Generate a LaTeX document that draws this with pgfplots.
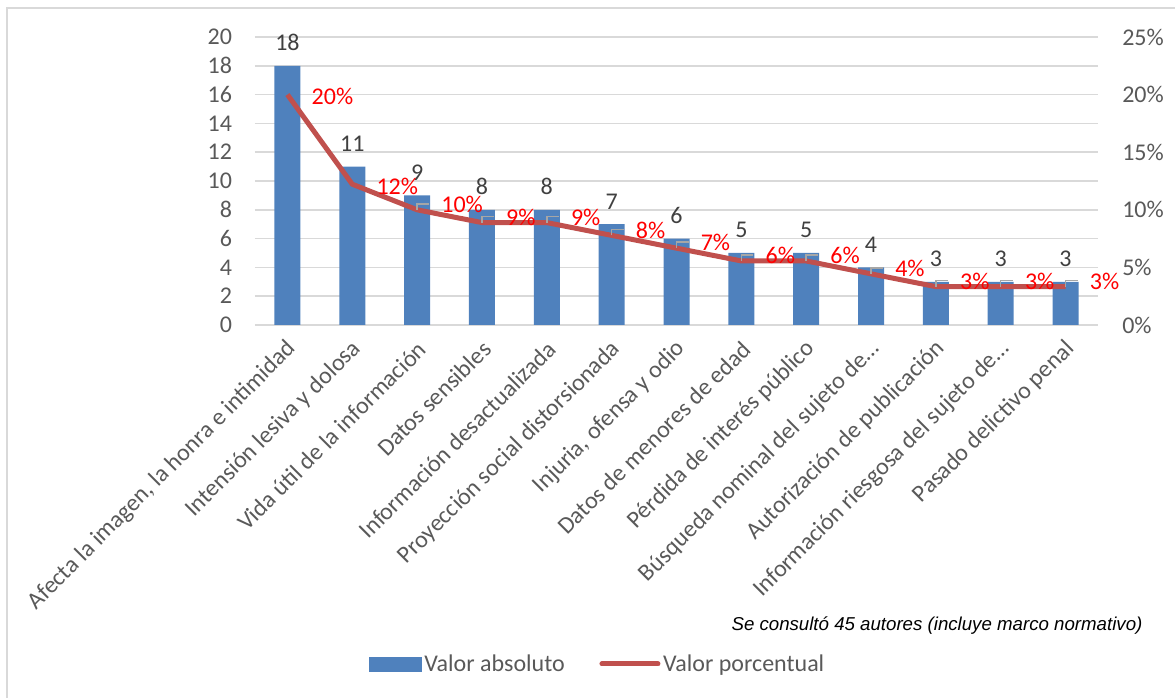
\documentclass[border=0pt]{standalone}
\usepackage{fontspec}
\setmainfont{Carlito}
\newfontfamily\notefont{Liberation Sans}
\usepackage{pgfplots}
\usepackage{pgfplotstable}
\pgfplotsset{compat=1.18}

\definecolor{barblue}{HTML}{4F81BD}
\definecolor{linered}{HTML}{C0504D}
\definecolor{gridgray}{HTML}{D9D9D9}
\definecolor{ticktext}{HTML}{595959}
\definecolor{labeltext}{HTML}{404040}
\definecolor{leadergray}{HTML}{A6A6A6}
\definecolor{pctred}{HTML}{FF0000}

\newcommand{\lbl}{\fontsize{18}{21}\selectfont}

\pgfdeclareplotmark{leader}{%
  \pgfpathmoveto{\pgfqpoint{0pt}{0pt}}%
  \pgfpathlineto{\pgfqpoint{0pt}{4.5pt}}%
  \pgfpathlineto{\pgfqpoint{9pt}{4.5pt}}%
  \pgfusepathqstroke}

\pgfplotstableread{
x count pct
0 18 20.00
1 11 12.22
2 9 10.00
3 8 8.89
4 8 8.89
5 7 7.78
6 6 6.67
7 5 5.56
8 5 5.56
9 4 4.44
10 3 3.33
11 3 3.33
12 3 3.33
}\datatable

\begin{document}
\begin{tikzpicture}
\path[use as bounding box] (-191.25pt,-279.75pt) rectangle (690pt,243.75pt);
\draw[gridgray, line width=1.1pt] (-186pt,-300pt) -- (-186pt,237.75pt) -- (720pt,237.75pt);

\begin{axis}[
  scale only axis, width=632.25pt, height=216pt,
  xmin=-0.5, xmax=12.5, ymin=0, ymax=20,
  axis line style={draw=none},
  major tick length=0pt,
  ytick={0,2,...,20},
  ymajorgrids, grid style={gridgray, line width=1.1pt},
  xtick={0,...,12},
  xticklabels={{Afecta la imagen, la honra e intimidad},
    {Intensión lesiva y dolosa},
    {Vida útil de la información},
    {Datos sensibles},
    {Información desactualizada},
    {Proyección social distorsionada},
    {Injuria, ofensa y odio},
    {Datos de menores de edad},
    {Pérdida de interés público},
    {Búsqueda nominal del sujeto de…},
    {Autorización de publicación},
    {Información riesgosa del sujeto de…},
    {Pasado delictivo penal}},
  tick label style={font=\lbl, text=ticktext},
  /pgf/number format/assume math mode=true,
  yticklabel style={inner sep=0pt, xshift=-17pt},
  xticklabel style={rotate=45, anchor=east, inner sep=0pt, xshift=-8pt, yshift=-13.5pt},
]
\addplot[ybar, bar width=19.5pt, fill=barblue, draw=none,
  nodes near coords,
  nodes near coords style={text=labeltext, font=\lbl, inner sep=0pt, yshift=11pt}]
  table[x=x, y=count] {\datatable};
\end{axis}

\begin{axis}[
  scale only axis, width=632.25pt, height=216pt,
  xmin=-0.5, xmax=12.5, ymin=0, ymax=25,
  clip=false,
  axis x line=none,
  axis y line*=right,
  axis line style={draw=none},
  major tick length=0pt,
  ytick={0,5,...,25},
  yticklabel={\pgfmathprintnumber{\tick}\%},
  tick label style={font=\lbl, text=ticktext},
  /pgf/number format/assume math mode=true,
  yticklabel style={inner sep=0pt},
  yticklabel shift=18pt,
  legend style={at={(axis description cs:0.407,-1.177)}, anchor=center,
    draw=none, fill=none, legend columns=2, font=\lbl, text=ticktext,
    /tikz/every even column/.append style={column sep=24pt}},
]
\addlegendimage{legend image code/.code={\fill[barblue] (0pt,-5.25pt) rectangle (39pt,5.25pt);}}
\addlegendentry{Valor absoluto}

\addplot[only marks, mark=leader, mark options={draw=leadergray, line width=1.1pt},
  restrict x to domain=2:12, forget plot]
  table[x=x, y=pct] {\datatable};

\addplot[linered, line width=3.75pt, line join=round, mark=none,
  legend image code/.code={\draw[linered, line width=3.75pt, line cap=round] (0pt,0pt) -- (42pt,0pt);}]
  table[x=x, y=pct] {\datatable};
\addlegendentry{Valor porcentual}

\addplot[draw=none, mark=none, restrict x to domain=0:1, forget plot,
  point meta=y,
  nodes near coords={\pgfmathprintnumber[fixed, precision=0]{\pgfplotspointmeta}\%},
  nodes near coords style={text=pctred, font=\lbl, anchor=west, inner sep=0pt, xshift=18pt, yshift=-1.5pt}]
  table[x=x, y=pct] {\datatable};
\addplot[draw=none, mark=none, restrict x to domain=2:12, forget plot,
  point meta=y,
  nodes near coords={\pgfmathprintnumber[fixed, precision=0]{\pgfplotspointmeta}\%},
  nodes near coords style={text=pctred, font=\lbl, anchor=west, inner sep=0pt, xshift=18pt, yshift=4pt}]
  table[x=x, y=pct] {\datatable};

\node[anchor=east, inner sep=0pt, font=\notefont\itshape\fontsize{14}{16.5}\selectfont]
  at (axis description cs:1.053,-1.045) {Se consultó 45 autores (incluye marco normativo)};
\end{axis}
\end{tikzpicture}
\end{document}
